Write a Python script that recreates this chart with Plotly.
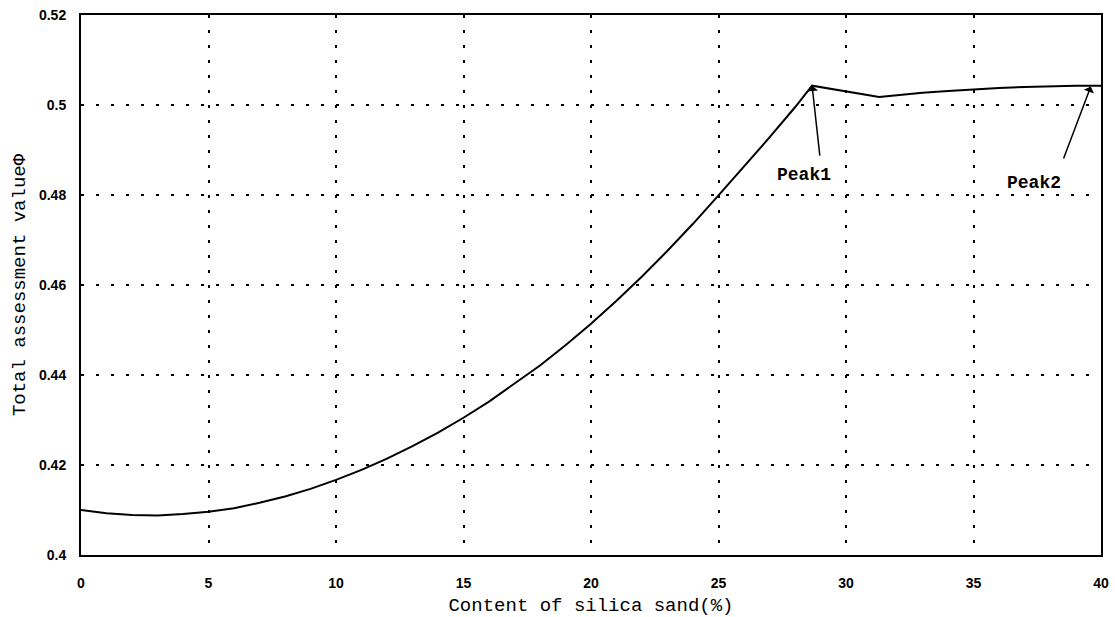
import plotly.graph_objects as go

# Data
silica = [0, 1, 2, 3, 4, 5, 6, 7, 8, 9, 10, 11, 12, 13, 14, 15, 16, 17, 18, 19, 20,
          21, 22, 23, 24, 25, 26, 27, 28, 28.67, 31.3, 32, 33, 34, 35, 36, 37, 38, 39, 40]
phi = [0.4100, 0.4093, 0.4089, 0.4088, 0.4091, 0.4096, 0.4104, 0.4116, 0.4130, 0.4147,
       0.4167, 0.4189, 0.4214, 0.4242, 0.4272, 0.4305, 0.4341, 0.4380, 0.4421, 0.4466,
       0.4514, 0.4565, 0.4619, 0.4676, 0.4736, 0.4799, 0.4863, 0.4928, 0.4995, 0.5043,
       0.5018, 0.5022, 0.5027, 0.5031, 0.5035, 0.5038, 0.5040, 0.5042, 0.5043, 0.5043]

x_ticks = [0, 5, 10, 15, 20, 25, 30, 35, 40]
x_tick_labels = ["0", "5", "10", "15", "20", "25", "30", "35", "40"]
y_ticks = [0.40, 0.42, 0.44, 0.46, 0.48, 0.50, 0.52]
y_tick_labels = ["0.4", "0.42", "0.44", "0.46", "0.48", "0.5", "0.52"]

peak_labels = ["Peak1", "Peak2"]
peak_heads_x = [28.67, 39.6]
peak_heads_y = [0.5043, 0.5041]
peak_tails_x = [28.98, 38.51]
peak_tails_y = [0.4884, 0.4878]
peak_text_x = [28.35, 37.37]
peak_text_y = [0.4844, 0.4827]

mono = "Liberation Mono"

fig = go.Figure()
fig.add_trace(go.Scatter(x=silica, y=phi, mode="lines",
                         line=dict(color="black", width=2), showlegend=False))

annotations = []
for i in range(len(peak_labels)):
    annotations.append(dict(x=peak_heads_x[i], y=peak_heads_y[i], xref="x", yref="y",
                            ax=peak_tails_x[i], ay=peak_tails_y[i], axref="x", ayref="y",
                            text="", showarrow=True, arrowhead=1, arrowsize=1.2,
                            arrowwidth=1.5, arrowcolor="black"))
    annotations.append(dict(x=peak_text_x[i], y=peak_text_y[i], xref="x", yref="y",
                            text="<b>" + peak_labels[i] + "</b>", showarrow=False,
                            font=dict(family=mono, size=18, color="black")))

fig.update_layout(
    width=1115, height=617,
    margin=dict(l=81, r=14, t=15, b=62, autoexpand=False),
    paper_bgcolor="white", plot_bgcolor="white",
    annotations=annotations,
    xaxis=dict(range=[0, 40], tickvals=x_ticks, ticktext=x_tick_labels,
               showline=True, mirror=True, linecolor="black", linewidth=2,
               showgrid=True, gridcolor="black", gridwidth=1.5, griddash="3px,12px",
               zeroline=False, ticks="", ticklabelstandoff=14, automargin=False,
               tickfont=dict(family="Liberation Sans", size=14, color="black", weight="bold"),
               title=dict(text="Content of silica sand(%)", standoff=10,
                          font=dict(family=mono, size=19, color="black"))),
    yaxis=dict(range=[0.40, 0.52], tickvals=y_ticks, ticktext=y_tick_labels,
               showline=True, mirror=True, linecolor="black", linewidth=2,
               showgrid=True, gridcolor="black", gridwidth=1.5, griddash="3px,12px",
               zeroline=False, ticks="", ticklabelstandoff=10, automargin=False,
               tickfont=dict(family="Liberation Sans", size=14, color="black", weight="bold"),
               title=dict(text="Total assessment valueΦ", standoff=8,
                          font=dict(family=mono, size=19, color="black"))),
)

fig.write_html("out.html")
